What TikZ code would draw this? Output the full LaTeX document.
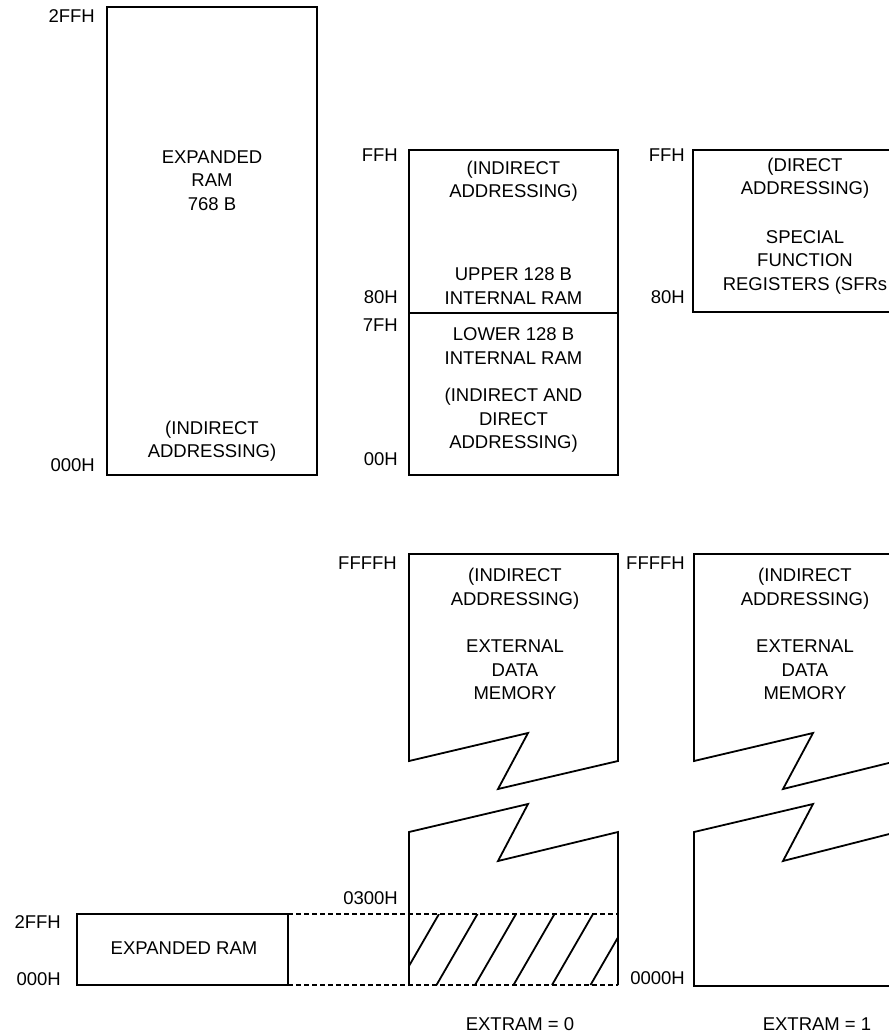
\documentclass[tikz,border=0pt]{standalone}
\usepackage{fontspec}
\setmainfont{Liberation Sans}
\begin{document}
\begin{tikzpicture}[x=1pt,y={(0pt,-1pt)},
  box/.style={line width=2pt, line join=miter},
  zig/.style={line width=1.8pt, line join=miter},
  lbl/.style={anchor=east, inner sep=0pt, font=\fontsize{18.5}{23.5}\selectfont},
  txt/.style={align=center, inner sep=0pt, font=\fontsize{18.5}{23.5}\selectfont},
  hatchln/.style={line width=1.8pt},
  dashtop/.style={line width=1.2pt, dash pattern=on 5pt off 3pt},
  dashbot/.style={line width=2.2pt, dash pattern=on 5pt off 3pt}]
\useasboundingbox (0,0) rectangle (889,1034);
\clip (0,0) rectangle (889,1034);

% ---------- top left: expanded RAM ----------
\draw[box] (107,7) rectangle (317,475);
\node[txt] (exp) at (212,180.5) {EXPANDED\\RAM\\768 B};
\node[txt] (expind) at (212,441) {(INDIRECT\\ADDRESSING)};
\node[lbl] (l2ffa) at (95,16) {2FFH};
\node[lbl] (l000a) at (95,465) {000H};

% ---------- middle: internal RAM ----------
\draw[box] (409,150) rectangle (618,475);
\draw[box] (409,313) -- (618,313);
\node[txt] (upind) at (513.5,181) {(INDIRECT\\ADDRESSING)};
\node[txt] (upper) at (513.5,286) {UPPER 128 B\\INTERNAL RAM};
\node[txt] (lower) at (513.5,346) {LOWER 128 B\\INTERNAL RAM};
\node[txt] (lowind) at (513.5,420.5) {(INDIRECT AND\\DIRECT\\ADDRESSING)};
\node[lbl] (lffm) at (398,155) {FFH};
\node[lbl] (l80m) at (398,297) {80H};
\node[lbl] (l7fm) at (398,325) {7FH};
\node[lbl] (l00m) at (398,459) {00H};

% ---------- right: SFRs ----------
\draw[box] (905,150) -- (693,150) -- (693,312) -- (905,312);
\node[txt] (sfrdir) at (805,178) {(DIRECT\\ADDRESSING)};
\node[txt] (sfr) at (805,262) {SPECIAL\\FUNCTION\\REGISTERS (SFRs};
\node[lbl] (lffs) at (685,155) {FFH};
\node[lbl] (l80s) at (685,297) {80H};

% ---------- bottom: external data memory, EXTRAM = 0 ----------
\draw[zig] (409,761) -- (409,554) -- (618,554) -- (618,761) -- (498,789) -- (528,733) -- cycle;
\draw[zig] (409,985) -- (409,832) -- (528,804) -- (498,861) -- (618,832) -- (618,985);
\node[txt] (x0ind) at (515,588.5) {(INDIRECT\\ADDRESSING)};
\node[txt] (x0mem) at (515,670) {EXTERNAL\\DATA\\MEMORY};
\node[lbl] (lff0) at (397,563) {FFFFH};
\node[lbl] (l0300) at (398,898) {0300H};

% hatched overlap region
\begin{scope}
  \clip (409,914) rectangle (617,985);
  \foreach \xb in {398,436.5,475,513.5,552,590.5}
    \draw[hatchln] (\xb,985) -- ({\xb+41},914);
\end{scope}

% expanded RAM (bottom)
\draw[box] (77,914) rectangle (288,985);
\node[txt] (expb) at (184,948) {EXPANDED RAM};
\node[lbl] (l2ffb) at (61,922) {2FFH};
\node[lbl] (l000b) at (61,979) {000H};
\draw[dashtop] (288,914) -- (618,914);
\draw[dashbot] (288,985) -- (618,985);

% ---------- bottom right: EXTRAM = 1 ----------
\draw[zig] (905,554) -- (694,554) -- (694,761) -- (813,733) -- (783,789) -- (905,759);
\draw[zig] (905,830) -- (783,861) -- (813,804) -- (694,832) -- (694,986) -- (905,986);
\node[txt] (x1ind) at (805,588.5) {(INDIRECT\\ADDRESSING)};
\node[txt] (x1mem) at (805,670) {EXTERNAL\\DATA\\MEMORY};
\node[lbl] (lff1) at (685,563) {FFFFH};
\node[lbl] (l0000) at (685,978) {0000H};

\node[txt] (e0) at (520,1024) {EXTRAM = 0};
\node[txt] (e1) at (817,1024) {EXTRAM = 1};
\end{tikzpicture}
\end{document}
